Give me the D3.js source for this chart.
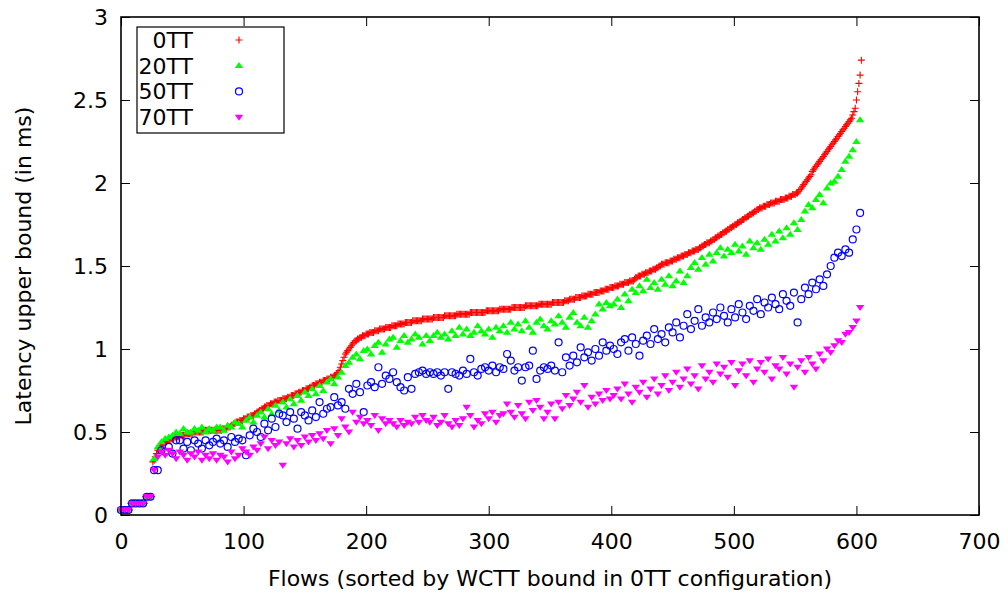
<!DOCTYPE html>
<html>
<head>
<meta charset="utf-8">
<script src="https://cdn.jsdelivr.net/npm/d3@7"></script>
<style>
  html, body { margin: 0; padding: 0; background: #fff; }
  svg { display: block; font-family: "DejaVu Sans", sans-serif; }
</style>
</head>
<body>
<svg id="chart" width="1008" height="598"></svg>
<script>
// Latency upper bound per flow, flows sorted by the 0TT bound (ms).
// 0TT has a value for every flow 0..604.
const tt0 = [
  0.03,0.03,0.03,0.03,0.03,0.03,0.03,0.03,0.07,0.07,0.07,0.07,0.07,0.07,0.07,0.07,0.07,0.07,0.07,0.07,0.11,0.11,0.11,0.11,0.11,0.11,
  0.32,0.33,0.35,0.37,0.39,0.40,0.41,0.42,0.43,0.43,0.44,0.44,0.45,0.45,
  0.45,0.46,0.46,0.46,0.47,0.47,0.47,0.47,0.48,0.48,
  0.48,0.48,0.48,0.49,0.49,0.49,0.49,0.49,0.49,0.50,
  0.50,0.50,0.50,0.50,0.50,0.50,0.50,0.50,0.51,0.51,
  0.51,0.51,0.51,0.51,0.51,0.51,0.51,0.51,0.51,0.51,
  0.51,0.51,0.51,0.52,0.52,0.52,0.52,0.53,0.53,0.53,
  0.54,0.54,0.55,0.55,0.56,0.56,0.56,0.57,0.57,0.57,
  0.58,0.58,0.58,0.59,0.59,0.59,0.60,0.60,0.60,0.61,
  0.61,0.62,0.62,0.63,0.63,0.64,0.64,0.65,0.65,0.66,
  0.66,0.66,0.67,0.67,0.67,0.68,0.68,0.68,0.69,0.69,
  0.69,0.69,0.70,0.70,0.70,0.70,0.71,0.71,0.71,0.72,
  0.72,0.72,0.73,0.73,0.73,0.74,0.74,0.74,0.75,0.75,
  0.75,0.76,0.76,0.76,0.77,0.77,0.78,0.78,0.78,0.79,
  0.79,0.79,0.80,0.80,0.80,0.81,0.81,0.81,0.82,0.82,
  0.82,0.83,0.83,0.83,0.84,0.84,0.85,0.86,0.87,0.89,
  0.91,0.93,0.95,0.97,0.98,0.99,1.00,1.01,1.02,1.03,
  1.04,1.05,1.05,1.06,1.06,1.07,1.07,1.08,1.08,1.08,
  1.09,1.09,1.09,1.10,1.10,1.10,1.10,1.11,1.11,1.11,
  1.11,1.12,1.12,1.12,1.12,1.12,1.13,1.13,1.13,1.13,
  1.13,1.14,1.14,1.14,1.14,1.14,1.15,1.15,1.15,1.15,
  1.15,1.15,1.16,1.16,1.16,1.16,1.16,1.16,1.17,1.17,
  1.17,1.17,1.17,1.17,1.17,1.17,1.18,1.18,1.18,1.18,
  1.18,1.18,1.18,1.18,1.18,1.19,1.19,1.19,1.19,1.19,
  1.19,1.19,1.19,1.19,1.20,1.20,1.20,1.20,1.20,1.20,
  1.20,1.20,1.20,1.20,1.21,1.21,1.21,1.21,1.21,1.21,
  1.21,1.21,1.21,1.21,1.21,1.22,1.22,1.22,1.22,1.22,
  1.22,1.22,1.22,1.22,1.22,1.22,1.22,1.22,1.23,1.23,
  1.23,1.23,1.23,1.23,1.23,1.23,1.23,1.23,1.23,1.24,
  1.24,1.24,1.24,1.24,1.24,1.24,1.24,1.24,1.24,1.25,
  1.25,1.25,1.25,1.25,1.25,1.25,1.25,1.25,1.25,1.25,
  1.26,1.26,1.26,1.26,1.26,1.26,1.26,1.26,1.26,1.26,
  1.26,1.27,1.27,1.27,1.27,1.27,1.27,1.27,1.27,1.27,
  1.27,1.27,1.28,1.28,1.28,1.28,1.28,1.28,1.28,1.28,
  1.28,1.28,1.29,1.29,1.29,1.29,1.30,1.30,1.30,1.30,
  1.30,1.31,1.31,1.31,1.31,1.31,1.32,1.32,1.32,1.32,
  1.32,1.33,1.33,1.33,1.33,1.33,1.34,1.34,1.34,1.34,
  1.34,1.35,1.35,1.35,1.35,1.36,1.36,1.36,1.36,1.37,
  1.37,1.37,1.37,1.38,1.38,1.38,1.38,1.39,1.39,1.39,
  1.39,1.40,1.40,1.40,1.40,1.41,1.41,1.41,1.41,1.42,
  1.43,1.43,1.44,1.44,1.44,1.45,1.45,1.45,1.46,1.46,
  1.46,1.47,1.47,1.47,1.48,1.48,1.48,1.49,1.49,1.50,
  1.50,1.51,1.51,1.51,1.52,1.52,1.52,1.52,1.53,1.53,
  1.53,1.54,1.54,1.54,1.55,1.55,1.55,1.56,1.56,1.56,
  1.57,1.57,1.57,1.58,1.58,1.58,1.59,1.59,1.59,1.60,
  1.60,1.60,1.61,1.61,1.62,1.62,1.63,1.63,1.64,1.64,
  1.64,1.65,1.65,1.66,1.66,1.67,1.67,1.68,1.68,1.69,
  1.69,1.70,1.70,1.71,1.71,1.72,1.72,1.73,1.73,1.74,
  1.74,1.75,1.75,1.76,1.76,1.77,1.77,1.78,1.78,1.79,
  1.79,1.80,1.80,1.81,1.81,1.82,1.82,1.83,1.83,1.84,
  1.84,1.85,1.85,1.85,1.86,1.86,1.86,1.87,1.87,1.87,
  1.88,1.88,1.88,1.88,1.89,1.89,1.89,1.89,1.90,1.90,
  1.90,1.90,1.91,1.91,1.91,1.92,1.92,1.92,1.93,1.93,
  1.93,1.94,1.94,1.95,1.96,1.97,1.98,1.99,2.00,2.01,
  2.02,2.03,2.04,2.05,2.07,2.08,2.09,2.10,2.11,2.12,
  2.13,2.14,2.15,2.16,2.17,2.18,2.19,2.20,2.21,2.22,
  2.23,2.24,2.25,2.26,2.27,2.28,2.29,2.30,2.31,2.32,
  2.33,2.34,2.35,2.36,2.37,2.38,2.39,2.41,2.43,2.45,
  2.50,2.55,2.60,2.65,2.74
];

// The other configurations are listed for every third flow (0, 3, ..., 603).
const tt20 = [
  0.03,0.03,0.03,0.07,0.07,0.07,0.07,0.11,0.11,
  0.34,0.41,0.44,0.46,0.47,
  0.48,0.50,0.49,0.52,0.50,0.50,0.52,0.51,0.53,0.50,
  0.52,0.51,0.53,0.53,0.51,0.54,0.53,0.56,0.55,0.53,
  0.57,0.59,0.56,0.60,0.62,0.59,0.64,0.61,0.66,0.63,
  0.68,0.65,0.70,0.67,0.72,0.69,0.74,0.72,0.76,0.73,
  0.78,0.75,0.80,0.82,0.79,0.83,0.86,0.90,0.92,0.95,
  0.97,0.94,0.99,1.00,0.97,1.02,1.04,0.98,1.03,1.06,
  1.07,1.01,1.05,1.08,1.04,1.06,1.09,1.07,1.03,1.08,
  1.05,1.08,1.10,1.07,1.09,1.06,1.11,1.08,1.13,1.09,
  1.12,1.08,1.10,1.14,1.11,1.09,1.12,1.07,1.13,1.11,
  1.14,1.10,1.16,1.12,1.15,1.11,1.17,1.13,1.10,1.16,
  1.18,1.14,1.12,1.17,1.15,1.20,1.16,1.13,1.19,1.22,
  1.16,1.14,1.19,1.13,1.17,1.21,1.27,1.24,1.28,1.26,
  1.27,1.30,1.25,1.33,1.29,1.36,1.34,1.38,1.35,1.42,
  1.37,1.40,1.36,1.42,1.39,1.44,1.38,1.41,1.47,1.40,
  1.44,1.49,1.52,1.48,1.55,1.51,1.57,1.53,1.58,1.61,
  1.56,1.60,1.58,1.63,1.59,1.62,1.57,1.65,1.61,1.64,
  1.60,1.66,1.63,1.69,1.65,1.71,1.67,1.73,1.69,1.76,
  1.72,1.78,1.83,1.87,1.85,1.90,1.93,1.88,1.97,2.00,
  2.01,2.04,2.08,2.13,2.16,2.20,2.25,2.38
];

const tt50 = [
  0.03,0.03,0.03,0.07,0.07,0.07,0.07,0.11,0.11,
  0.27,0.27,0.39,0.38,0.41,
  0.37,0.45,0.45,0.40,0.44,0.39,0.45,0.43,0.40,0.45,
  0.42,0.44,0.46,0.43,0.45,0.41,0.47,0.44,0.46,0.45,
  0.36,0.48,0.52,0.50,0.47,0.55,0.51,0.58,0.53,0.61,
  0.60,0.56,0.62,0.58,0.52,0.62,0.60,0.57,0.63,0.59,
  0.68,0.61,0.64,0.65,0.71,0.66,0.68,0.64,0.76,0.73,
  0.79,0.74,0.62,0.78,0.80,0.77,0.89,0.79,0.84,0.82,
  0.86,0.80,0.77,0.75,0.83,0.76,0.85,0.86,0.87,0.85,
  0.86,0.85,0.86,0.84,0.86,0.76,0.86,0.85,0.84,0.87,
  0.85,0.94,0.86,0.84,0.88,0.89,0.87,0.90,0.86,0.89,
  0.88,0.97,0.93,0.87,0.89,0.81,0.89,0.90,0.99,0.82,
  0.87,0.89,0.88,0.90,0.87,1.04,0.86,0.95,0.90,0.96,
  0.92,1.01,0.95,0.98,0.93,1.00,0.96,1.04,0.99,1.02,
  1.00,0.97,1.04,1.06,0.99,1.07,1.03,0.96,1.05,1.08,
  1.03,1.12,1.06,1.09,1.04,1.13,1.10,1.16,1.07,1.14,
  1.21,1.12,1.17,1.24,1.14,1.19,1.16,1.22,1.18,1.25,
  1.20,1.16,1.24,1.19,1.27,1.22,1.18,1.26,1.23,1.30,
  1.21,1.28,1.25,1.31,1.27,1.24,1.33,1.29,1.26,1.34,
  1.16,1.30,1.37,1.33,1.40,1.36,1.42,1.38,1.45,1.50,
  1.55,1.58,1.56,1.60,1.58,1.66,1.72,1.82
];

const tt70 = [
  0.03,0.03,0.03,0.07,0.07,0.07,0.07,0.11,0.11,
  0.27,0.35,0.38,0.36,0.39,
  0.37,0.34,0.38,0.36,0.33,0.37,0.35,0.38,0.33,0.36,
  0.34,0.37,0.33,0.36,0.35,0.32,0.38,0.34,0.36,0.40,
  0.38,0.36,0.41,0.39,0.43,0.47,0.40,0.45,0.42,0.44,
  0.30,0.43,0.46,0.41,0.45,0.42,0.47,0.44,0.48,0.45,
  0.49,0.46,0.51,0.43,0.52,0.48,0.58,0.53,0.50,0.62,
  0.56,0.59,0.55,0.57,0.54,0.60,0.51,0.58,0.55,0.57,
  0.55,0.53,0.57,0.54,0.56,0.55,0.59,0.56,0.60,0.57,
  0.56,0.59,0.54,0.56,0.60,0.55,0.53,0.57,0.54,0.58,
  0.65,0.60,0.53,0.57,0.55,0.61,0.58,0.62,0.56,0.60,
  0.61,0.67,0.62,0.59,0.66,0.61,0.58,0.68,0.63,0.69,
  0.65,0.58,0.62,0.67,0.58,0.68,0.64,0.72,0.66,0.70,
  0.74,0.68,0.78,0.65,0.71,0.67,0.73,0.69,0.75,0.70,
  0.72,0.76,0.70,0.79,0.73,0.68,0.77,0.74,0.80,0.71,
  0.76,0.82,0.73,0.78,0.84,0.75,0.80,0.86,0.77,0.82,
  0.88,0.79,0.84,0.76,0.90,0.82,0.86,0.80,0.91,0.85,
  0.89,0.83,0.92,0.78,0.87,0.91,0.84,0.93,0.80,0.88,
  0.92,0.86,0.94,0.82,0.90,0.88,0.95,0.85,0.91,0.77,
  0.89,0.93,0.86,0.95,0.91,0.88,0.97,0.93,1.00,0.98,
  1.02,1.05,1.04,1.09,1.10,1.13,1.17,1.25
];

const seriesNames = ["0TT", "20TT", "50TT", "70TT"];
const seriesColors = ["#ff0000", "#00ff00", "#0000ff", "#ff00ff"];
const xTicks = [0, 100, 200, 300, 400, 500, 600, 700];
const yTicks = [0, 0.5, 1, 1.5, 2, 2.5, 3];
const xTickLabels = ["0", "100", "200", "300", "400", "500", "600", "700"];
const yTickLabels = ["0", "0.5", "1", "1.5", "2", "2.5", "3"];

const svg = d3.select("#chart");
const plotL = 121, plotR = 979, plotT = 17, plotB = 515;

const x = d3.scaleLinear().domain([0, 700]).range([plotL, plotR]);
const y = d3.scaleLinear().domain([0, 3]).range([plotB, plotT]);

const FONT = 22;

// Marker shapes (gnuplot-like point types)
const shapes = {
  plus: "M-3.5,0H3.5M0,-3.5V3.5",
  triUp: "M0,-3.6L4.2,2.4L-4.2,2.4Z",
  triDown: "M0,3.6L4.2,-2.4L-4.2,-2.4Z"
};

function drawMarker(sel, kind, color) {
  if (kind === 0) {
    sel.append("path").attr("d", shapes.plus).attr("fill", "none")
      .attr("stroke", color).attr("stroke-width", 1.1);
  } else if (kind === 1) {
    sel.append("path").attr("d", shapes.triUp).attr("fill", color);
  } else if (kind === 2) {
    sel.append("circle").attr("r", 3.5).attr("fill", "none")
      .attr("stroke", color).attr("stroke-width", 1.2);
  } else {
    sel.append("path").attr("d", shapes.triDown).attr("fill", color);
  }
}

// Axes with inward ticks on all four sides
const fmtX = (d) => xTickLabels[xTicks.indexOf(d)];
const fmtY = (d) => yTickLabels[yTicks.indexOf(d)];

const gx = svg.append("g").attr("transform", `translate(0,${plotB})`)
  .call(d3.axisBottom(x).tickValues(xTicks).tickFormat(fmtX).tickSize(-9).tickPadding(18));
const gy = svg.append("g").attr("transform", `translate(${plotL},0)`)
  .call(d3.axisLeft(y).tickValues(yTicks).tickFormat(fmtY).tickSize(-9).tickPadding(13));
const gxTop = svg.append("g").attr("transform", `translate(0,${plotT})`)
  .call(d3.axisTop(x).tickValues(xTicks).tickFormat("").tickSize(-9));
const gyRight = svg.append("g").attr("transform", `translate(${plotR},0)`)
  .call(d3.axisRight(y).tickValues(yTicks).tickFormat("").tickSize(-9));

[gx, gy, gxTop, gyRight].forEach(g => {
  g.select(".domain").remove();
  g.selectAll(".tick line").attr("stroke", "#000").attr("stroke-width", 1);
  g.selectAll("text").attr("font-size", FONT).attr("fill", "#000")
    .attr("font-family", "DejaVu Sans, sans-serif");
});

// Points, drawn in series order so later configurations sit on top
const flowsAll = d3.range(tt0.length);
const flowsThird = d3.range(0, 604, 3);
const seriesData = [
  flowsAll.map((f, i) => [f, tt0[i]]),
  flowsThird.map((f, i) => [f, tt20[i]]),
  flowsThird.map((f, i) => [f, tt50[i]]),
  flowsThird.map((f, i) => [f, tt70[i]])
];

const plot = svg.append("g");
seriesData.forEach((data, k) => {
  const g = plot.append("g");
  g.selectAll("g").data(data).join("g")
    .attr("transform", d => `translate(${x(d[0])},${y(d[1])})`)
    .each(function () { drawMarker(d3.select(this), k, seriesColors[k]); });
});

// Frame
svg.append("rect").attr("x", plotL).attr("y", plotT)
  .attr("width", plotR - plotL).attr("height", plotB - plotT)
  .attr("fill", "none").attr("stroke", "#000").attr("stroke-width", 1.6);

// Legend
const legend = svg.append("g");
legend.append("rect").attr("x", 137).attr("y", 27).attr("width", 147).attr("height", 106)
  .attr("fill", "#fff").attr("stroke", "#000").attr("stroke-width", 1.2);
seriesNames.forEach((name, k) => {
  const cy = 40 + k * 25.7;
  legend.append("text").attr("x", 193).attr("y", cy).attr("dy", "0.36em")
    .attr("text-anchor", "end").attr("font-size", FONT).attr("fill", "#000").text(name);
  const m = legend.append("g").attr("transform", `translate(239,${cy})`);
  drawMarker(m, k, seriesColors[k]);
});

// Axis titles
svg.append("text").attr("x", 550).attr("y", 586).attr("text-anchor", "middle")
  .attr("font-size", FONT).attr("fill", "#000")
  .text("Flows (sorted by WCTT bound in 0TT configuration)");
svg.append("text").attr("transform", "translate(31,266) rotate(-90)")
  .attr("text-anchor", "middle").attr("font-size", FONT).attr("fill", "#000")
  .text("Latency upper bound (in ms)");
</script>
</body>
</html>
